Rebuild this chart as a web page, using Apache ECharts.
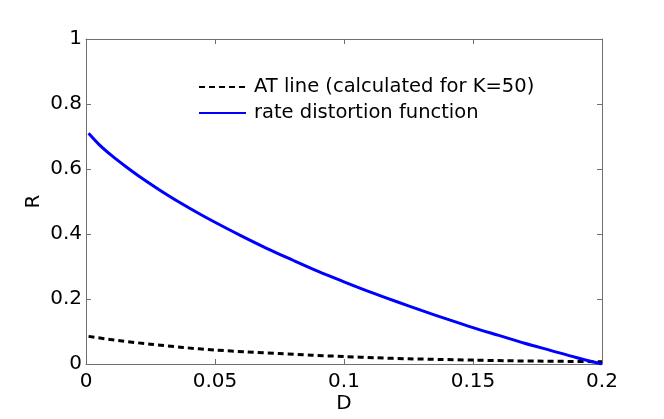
<!DOCTYPE html>
<html>
<head>
<meta charset="utf-8">
<script src="https://cdn.jsdelivr.net/npm/echarts@6/dist/echarts.min.js"></script>
<style>
  html, body { margin: 0; padding: 0; background: #fff; }
  #main { width: 664px; height: 419px; }
</style>
</head>
<body>
<div id="main"></div>
<script>
// values
var rdD = [0.001, 0.005, 0.01, 0.015, 0.02, 0.03, 0.04, 0.05, 0.06, 0.07, 0.08, 0.09, 0.10,
           0.11, 0.12, 0.13, 0.14, 0.15, 0.16, 0.17, 0.18, 0.19, 0.20];
var rdR = [0.710, 0.676, 0.641, 0.610, 0.581, 0.528, 0.480, 0.436, 0.395, 0.356, 0.320, 0.285, 0.253,
           0.222, 0.193, 0.165, 0.138, 0.112, 0.088, 0.064, 0.042, 0.020, 0.0];

var atD = [0.001, 0.0125, 0.025, 0.0375, 0.05, 0.0625, 0.075, 0.0875, 0.10,
           0.1125, 0.125, 0.1375, 0.15, 0.1625, 0.175, 0.1875, 0.20];
var atR = [0.085, 0.072, 0.061, 0.051, 0.043, 0.037, 0.032, 0.027, 0.023,
           0.019, 0.016, 0.014, 0.012, 0.010, 0.009, 0.008, 0.007];

var xTicks = ['0', '0.05', '0.1', '0.15', '0.2'];
var yTicks = ['0', '0.2', '0.4', '0.6', '0.8', '1'];

var seriesNames = ['AT line (calculated for K=50)', 'rate distortion function'];

function pairs(xs, ys) {
    return xs.map(function (x, i) { return [x, ys[i]]; });
}

var axisColor = '#707070';
var tickFont = { fontFamily: 'DejaVu Sans', fontSize: 20, color: '#000' };

var chartDom = document.getElementById('main');
var myChart = echarts.init(chartDom, null, { renderer: 'canvas' });

var baseX = {
    type: 'value', min: 0, max: 0.2, interval: 0.05,
    axisLine: { show: true, onZero: false, lineStyle: { color: axisColor, width: 1 } },
    axisTick: { show: true, inside: true, length: 5, lineStyle: { color: axisColor } },
    splitLine: { show: false }
};
var baseY = {
    type: 'value', min: 0, max: 1, interval: 0.2,
    axisLine: { show: true, onZero: false, lineStyle: { color: axisColor, width: 1 } },
    axisTick: { show: true, inside: true, length: 5, lineStyle: { color: axisColor } },
    splitLine: { show: false }
};

var option = {
    animation: false,
    backgroundColor: '#fff',
    grid: { left: 86, top: 39, right: 62, bottom: 53, containLabel: false },
    legend: {
        orient: 'vertical',
        left: 193,
        top: 72,
        itemWidth: 47,
        itemHeight: 16,
        itemGap: 6,
        data: seriesNames,
        itemStyle: { opacity: 0 },
        textStyle: { fontFamily: 'DejaVu Sans', fontSize: 19.5, color: '#000', padding: [0, 0, 0, 3] }
    },
    xAxis: [
        Object.assign({}, baseX, {
            position: 'bottom',
            name: 'D', nameLocation: 'middle', nameGap: 30,
            nameMoveOverlap: false,
            nameTextStyle: tickFont,
            axisLabel: Object.assign({ margin: 8, formatter: function (v) {
                return xTicks[Math.round(v / 0.05)];
            } }, tickFont)
        }),
        Object.assign({}, baseX, { position: 'top', axisLabel: { show: false } })
    ],
    yAxis: [
        Object.assign({}, baseY, {
            position: 'left',
            name: 'R', nameLocation: 'middle', nameGap: 42,
            nameMoveOverlap: false,
            nameTextStyle: tickFont,
            axisLabel: Object.assign({ margin: 4, formatter: function (v) {
                return yTicks[Math.round(v / 0.2)];
            } }, tickFont)
        }),
        Object.assign({}, baseY, { position: 'right', axisLabel: { show: false } })
    ],
    series: [
        {
            name: seriesNames[0],
            type: 'line',
            data: pairs(atD, atR),
            showSymbol: false, symbol: 'none',
            smooth: 0.3,
            lineStyle: { color: '#000', width: 3, type: [6, 4] },
            itemStyle: { color: '#000' }
        },
        {
            name: seriesNames[1],
            type: 'line',
            data: pairs(rdD, rdR),
            showSymbol: false, symbol: 'none',
            smooth: 0.3,
            lineStyle: { color: '#0000ff', width: 3 },
            itemStyle: { color: '#0000ff' }
        }
    ]
};

option && myChart.setOption(option);
</script>
</body>
</html>
